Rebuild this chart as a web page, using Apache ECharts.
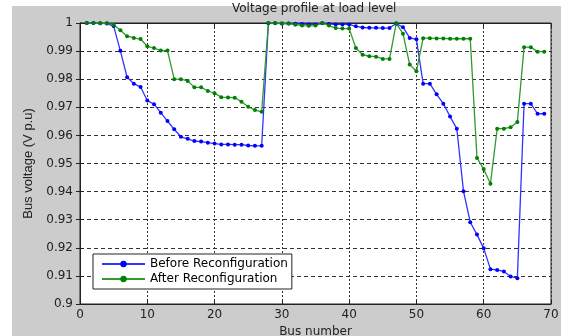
<!DOCTYPE html>
<html>
<head>
<meta charset="utf-8">
<script src="https://cdn.jsdelivr.net/npm/echarts@6/dist/echarts.min.js"></script>
<style>
  html, body { margin: 0; padding: 0; background: #fff; }
  #voltChart { width: 575px; height: 336px; }
</style>
</head>
<body>
<div id="voltChart"></div>
<script>
var buses = [];
for (var b = 1; b <= 69; b++) buses.push(b);

var beforeVolt = [
  1.0000, 1.0000, 0.9999, 0.9998, 0.9989, 0.9901, 0.9807, 0.9784, 0.9772, 0.9724,
  0.9711, 0.9681, 0.9651, 0.9622, 0.9595, 0.9588, 0.9580, 0.9578, 0.9574, 0.9571,
  0.9568, 0.9568, 0.9567, 0.9567, 0.9564, 0.9563, 0.9563, 0.9999, 0.9999, 0.9998,
  0.9998, 0.9997, 0.9996, 0.9995, 0.9995, 0.9999, 0.9996, 0.9995, 0.9995, 0.9995,
  0.9988, 0.9984, 0.9983, 0.9983, 0.9982, 0.9982, 0.9998, 0.9985, 0.9947, 0.9942,
  0.9784, 0.9784, 0.9746, 0.9713, 0.9667, 0.9624, 0.9401, 0.9291, 0.9247, 0.9198,
  0.9124, 0.9121, 0.9116, 0.9098, 0.9092, 0.9713, 0.9713, 0.9677, 0.9677
];

var afterVolt = [
  1.0000, 1.0000, 0.9999, 0.9999, 0.9994, 0.9974, 0.9953, 0.9947, 0.9943, 0.9917,
  0.9911, 0.9902, 0.9902, 0.9800, 0.9800, 0.9794, 0.9771, 0.9771, 0.9758, 0.9750,
  0.9736, 0.9735, 0.9734, 0.9720, 0.9702, 0.9690, 0.9684, 1.0000, 1.0000, 0.9998,
  0.9998, 0.9994, 0.9991, 0.9990, 0.9991, 1.0000, 0.9991, 0.9982, 0.9980, 0.9980,
  0.9911, 0.9887, 0.9882, 0.9880, 0.9872, 0.9872, 0.9999, 0.9962, 0.9852, 0.9828,
  0.9946, 0.9946, 0.9945, 0.9945, 0.9944, 0.9944, 0.9944, 0.9944, 0.9520, 0.9480,
  0.9428, 0.9624, 0.9624, 0.9629, 0.9648, 0.9914, 0.9914, 0.9898, 0.9898
];

var seriesNames = ['Before Reconfiguration', 'After Reconfiguration'];

function pairs(ys) {
  return buses.map(function (x, i) { return [x, ys[i]]; });
}

var font = 'DejaVu Sans';
var chart = echarts.init(document.getElementById('voltChart'));

var option = {
  animation: false,
  backgroundColor: '#fff',
  graphic: [
    {
      type: 'rect',
      z: -10,
      shape: { x: 12, y: 6, width: 549, height: 330 },
      style: { fill: '#cccccc' }
    },
    {
      type: 'text',
      left: 315 - 83,
      top: 3,
      style: {
        text: 'Voltage profile at load level',
        fill: '#222',
        font: '12px "DejaVu Sans"'
      }
    }
  ],
  legend: {
    orient: 'vertical',
    left: 93,
    top: 254,
    backgroundColor: '#fff',
    borderColor: '#222',
    borderWidth: 1,
    borderRadius: 0,
    padding: [3, 4, 3, 8],
    itemGap: 1,
    itemWidth: 43,
    itemHeight: 8,
    textStyle: { fontFamily: font, fontSize: 12, color: '#000', lineHeight: 14 },
    data: seriesNames
  },
  grid: {
    left: 80,
    right: 24,
    top: 23,
    bottom: 32,
    outerBoundsMode: 'none',
    show: true,
    backgroundColor: '#fff',
    borderColor: '#222',
    borderWidth: 1
  },
  xAxis: [
    {
      type: 'value',
      min: 0,
      max: 70,
      interval: 10,
      name: 'Bus number',
      nameLocation: 'middle',
      nameGap: 15,
      nameTextStyle: { fontFamily: font, fontSize: 12, color: '#222' },
      axisLine: { lineStyle: { color: '#222' } },
      axisTick: { inside: true, length: 4, lineStyle: { color: '#222' } },
      axisLabel: { fontFamily: font, fontSize: 12, color: '#222', margin: 5 },
      splitLine: { lineStyle: { color: '#333', type: [2, 2], width: 1 } }
    },
    {
      type: 'value',
      position: 'top',
      min: 0,
      max: 70,
      interval: 10,
      axisLine: { lineStyle: { color: '#222' } },
      axisTick: { inside: true, length: 4, lineStyle: { color: '#222' } },
      axisLabel: { show: false },
      splitLine: { show: false }
    }
  ],
  yAxis: [
    {
      type: 'value',
      min: 0.9,
      max: 1,
      interval: 0.01,
      name: 'Bus voltage (V p.u)',
      nameLocation: 'middle',
      nameGap: 40,
      nameTextStyle: { fontFamily: 'Liberation Sans', fontSize: 13, color: '#222' },
      axisLine: { show: true, lineStyle: { color: '#222' } },
      axisTick: { show: true, inside: true, length: 4, lineStyle: { color: '#222' } },
      axisLabel: {
        fontFamily: font, fontSize: 12, color: '#222', margin: 7,
        formatter: function (v) { return String(parseFloat(v.toFixed(2))); }
      },
      splitLine: { lineStyle: { color: '#333', type: [4, 3], width: 1 } }
    },
    {
      type: 'value',
      position: 'right',
      min: 0.9,
      max: 1,
      interval: 0.01,
      axisLine: { show: true, lineStyle: { color: '#222' } },
      axisTick: { show: true, inside: true, length: 4, lineStyle: { color: '#222' } },
      axisLabel: { show: false },
      splitLine: { show: false }
    }
  ],
  series: [
    {
      name: seriesNames[0],
      type: 'line',
      symbol: 'circle',
      symbolSize: 4,
      itemStyle: { color: '#0000ff' },
      lineStyle: { color: '#3333ff', width: 1.3 },
      data: pairs(beforeVolt)
    },
    {
      name: seriesNames[1],
      type: 'line',
      symbol: 'circle',
      symbolSize: 4,
      itemStyle: { color: '#008000' },
      lineStyle: { color: '#2f9a2f', width: 1.3 },
      data: pairs(afterVolt)
    }
  ]
};

chart.setOption(option);
</script>
</body>
</html>
